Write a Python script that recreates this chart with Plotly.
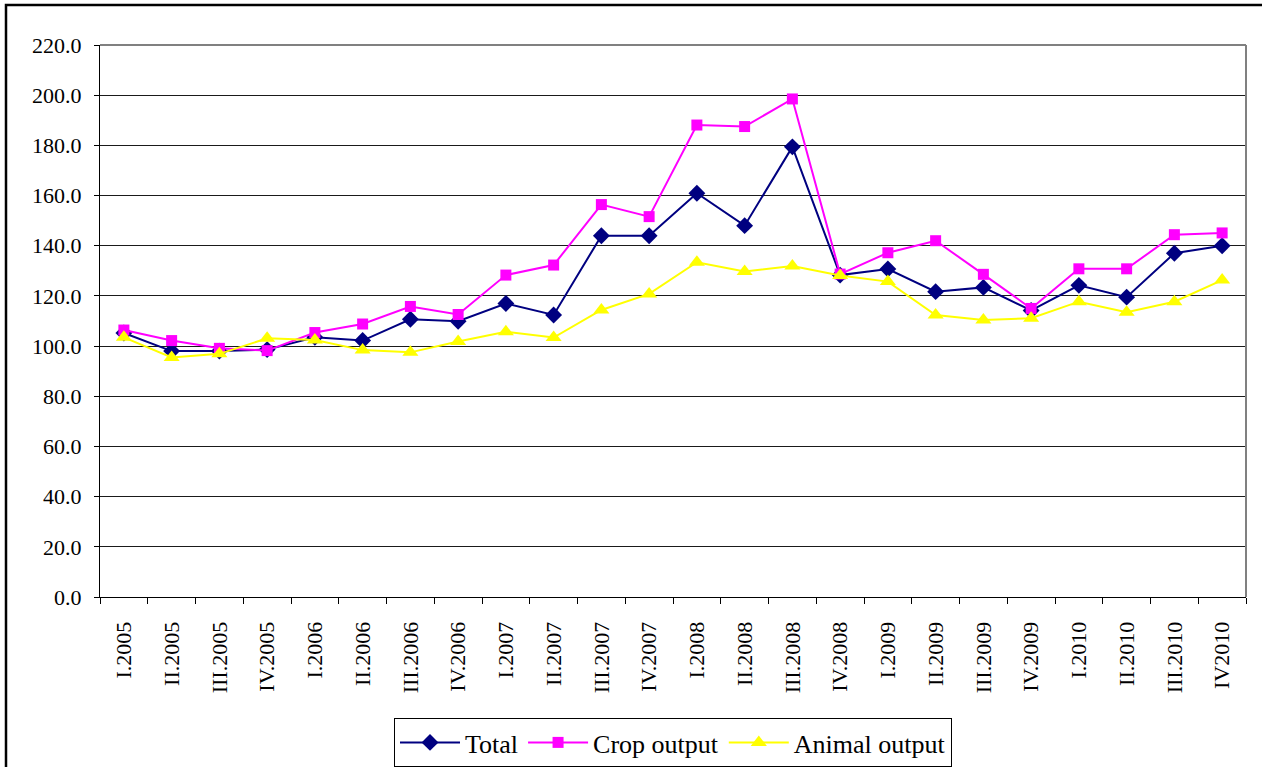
import plotly.graph_objects as go

quarters = ["I.2005", "II.2005", "III.2005", "IV.2005",
            "I.2006", "II.2006", "III.2006", "IV.2006",
            "I.2007", "II.2007", "III.2007", "IV.2007",
            "I.2008", "II.2008", "III.2008", "IV.2008",
            "I.2009", "II.2009", "III.2009", "IV.2009",
            "I.2010", "II.2010", "III.2010", "IV2010"]

total = [105.2, 98.0, 98.0, 98.6, 103.5, 102.2, 110.7, 109.9,
         117.0, 112.4, 144.0, 144.0, 160.9, 148.0, 179.4, 128.3,
         130.7, 121.7, 123.4, 114.2, 124.2, 119.5, 137.0, 140.0]

crop = [106.4, 102.2, 99.1, 98.2, 105.4, 108.8, 115.8, 112.6,
        128.3, 132.3, 156.4, 151.6, 188.1, 187.5, 198.5, 128.7,
        137.2, 142.0, 128.6, 115.0, 130.8, 130.8, 144.4, 145.1]

animal = [103.5, 95.5, 96.9, 103.1, 102.4, 98.4, 97.5, 101.8,
          105.7, 103.4, 114.4, 120.8, 133.4, 129.7, 131.9, 128.1,
          125.7, 112.4, 110.4, 111.1, 117.7, 113.5, 117.7, 126.3]

series_names = ["Total", "Crop output", "Animal output"]

FONT = "Liberation Serif"

fig = go.Figure()
fig.add_trace(go.Scatter(
    x=quarters, y=total, name=series_names[0], mode="lines+markers",
    line=dict(color="#000080", width=2),
    marker=dict(symbol="diamond", size=13, color="#000080")))
fig.add_trace(go.Scatter(
    x=quarters, y=crop, name=series_names[1], mode="lines+markers",
    line=dict(color="#FF00FF", width=2),
    marker=dict(symbol="square", size=11, color="#FF00FF")))
fig.add_trace(go.Scatter(
    x=quarters, y=animal, name=series_names[2], mode="lines+markers",
    line=dict(color="#FFFF00", width=2),
    marker=dict(symbol="triangle-up", size=14, color="#FFFF00")))

L, R, T, B = 100, 1246, 45, 597
W, H = 1262, 767

def px_x(p):
    return (p - L) / (R - L)

def px_y(p):
    return (B - p) / (B - T)

fig.update_layout(
    width=W, height=H,
    margin=dict(l=L, r=W - R, t=T, b=H - B, pad=0, autoexpand=False),
    paper_bgcolor="white", plot_bgcolor="white",
    font=dict(family=FONT, color="black", size=22),
    showlegend=True,
    legend=dict(orientation="h", x=0.5, xanchor="center",
                y=px_y(718), yanchor="top",
                bordercolor="black", borderwidth=1, bgcolor="white",
                font=dict(family=FONT, size=26, color="black"),
                itemwidth=60, tracegroupgap=0),
    xaxis=dict(type="category", showgrid=False, showline=True,
               linecolor="black", linewidth=1, ticks="outside",
               tickson="boundaries", ticklen=6, tickcolor="black",
               tickangle=-90, ticklabelstandoff=15, automargin=False,
               tickfont=dict(family=FONT, size=22, color="black"),
               range=[-0.5, len(quarters) - 0.5], fixedrange=True),
    yaxis=dict(range=[0, 220], dtick=20, tick0=0, tickformat=".1f",
               showgrid=True, gridcolor="#1a1a1a", gridwidth=1,
               zeroline=False, showline=True, linecolor="black",
               linewidth=1, ticks="outside", ticklen=5, automargin=False,
               tickcolor="black", ticklabelstandoff=8,
               tickfont=dict(family=FONT, size=22, color="black"),
               fixedrange=True),
    shapes=[
        dict(type="line", xref="paper", yref="paper", x0=0, x1=1,
             y0=1, y1=1, line=dict(color="#808080", width=2)),
        dict(type="line", xref="paper", yref="paper", x0=1, x1=1,
             y0=0, y1=1, line=dict(color="#808080", width=2)),
        dict(type="rect", xref="paper", yref="paper",
             x0=px_x(6), x1=px_x(1400), y0=px_y(900), y1=px_y(5),
             line=dict(color="black", width=2.5), fillcolor="rgba(0,0,0,0)"),
    ],
)

fig.write_html("out.html", config={"displayModeBar": False},
               post_script="document.body.style.margin='0px';")
